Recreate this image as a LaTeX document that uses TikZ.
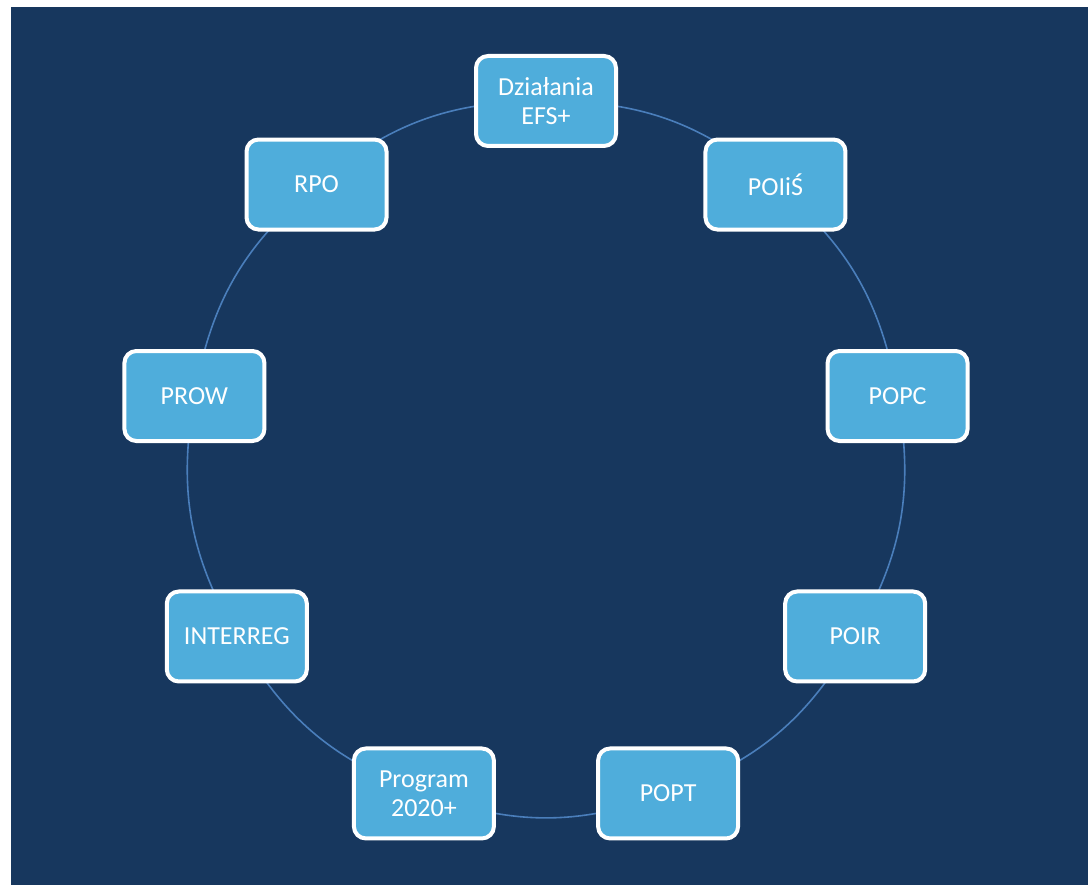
\documentclass[tikz,border=0pt]{standalone}
\usepackage{fontspec}
\setmainfont{Carlito}
\usetikzlibrary{positioning, calc}
\definecolor{bgblue}{HTML}{17375E}
\definecolor{boxblue}{HTML}{4FADDB}
\definecolor{ringblue}{HTML}{4A7EBB}
\pgfdeclarelayer{back}
\pgfdeclarelayer{ringlayer}
\pgfsetlayers{back, ringlayer, main}
\begin{document}
\begin{tikzpicture}[x = 0.75pt, y = 0.75pt,
		prog/.style = { draw = white, line width = 3pt, fill = boxblue, rounded corners = 9pt, text = white, align = center,
			minimum width = 105pt, minimum height = 67.5pt, font = \fontsize{19.5}{21.5}\selectfont },
		ring/.style = { draw = ringblue, line width = 1.2pt }]
		\useasboundingbox (0, 0) rectangle (1088, 885);
		\begin{pgfonlayer}{back}
			\fill [bgblue] (11, 0) rectangle (1088, 878);
		\end{pgfonlayer}

		\coordinate (c) at (546, 427);

		\node [prog] (efs)    at ($(c) + (90:357)$)   {Działania\\EFS+};
		\node [prog] (poiis)  at ($(c) + (50:357)$)   {POIiŚ};
		\node [prog] (popc)   at ($(c) + (10:357)$)   {POPC};
		\node [prog] (poir)   at ($(c) + (-30:357)$)  {POIR};
		\node [prog] (popt)   at ($(c) + (-70:357)$)  {POPT};
		\node [prog] (p2020)  at ($(c) + (-110:357)$) {Program\\2020+};
		\node [prog] (interreg) at ($(c) + (-150:357)$) {INTERREG};
		\node [prog] (prow)   at ($(c) + (170:357)$)  {PROW};
		\node [prog] (rpo)    at ($(c) + (130:357)$)  {RPO};

		% arcs of the ring, clockwise from the top; centre to centre, hidden behind the boxes
		\begin{pgfonlayer}{ringlayer}
			\draw [ring] (efs.center)      to[bend left = 20] (poiis.center);
			\draw [ring] (poiis.center)    to[bend left = 20] (popc.center);
			\draw [ring] (popc.center)     to[bend left = 20] (poir.center);
			\draw [ring] (poir.center)     to[bend left = 20] (popt.center);
			\draw [ring] (popt.center)     to[bend left = 20] (p2020.center);
			\draw [ring] (p2020.center)    to[bend left = 20] (interreg.center);
			\draw [ring] (interreg.center) to[bend left = 20] (prow.center);
			\draw [ring] (prow.center)     to[bend left = 20] (rpo.center);
			\draw [ring] (rpo.center)      to[bend left = 20] (efs.center);
		\end{pgfonlayer}
	\end{tikzpicture}
\end{document}
